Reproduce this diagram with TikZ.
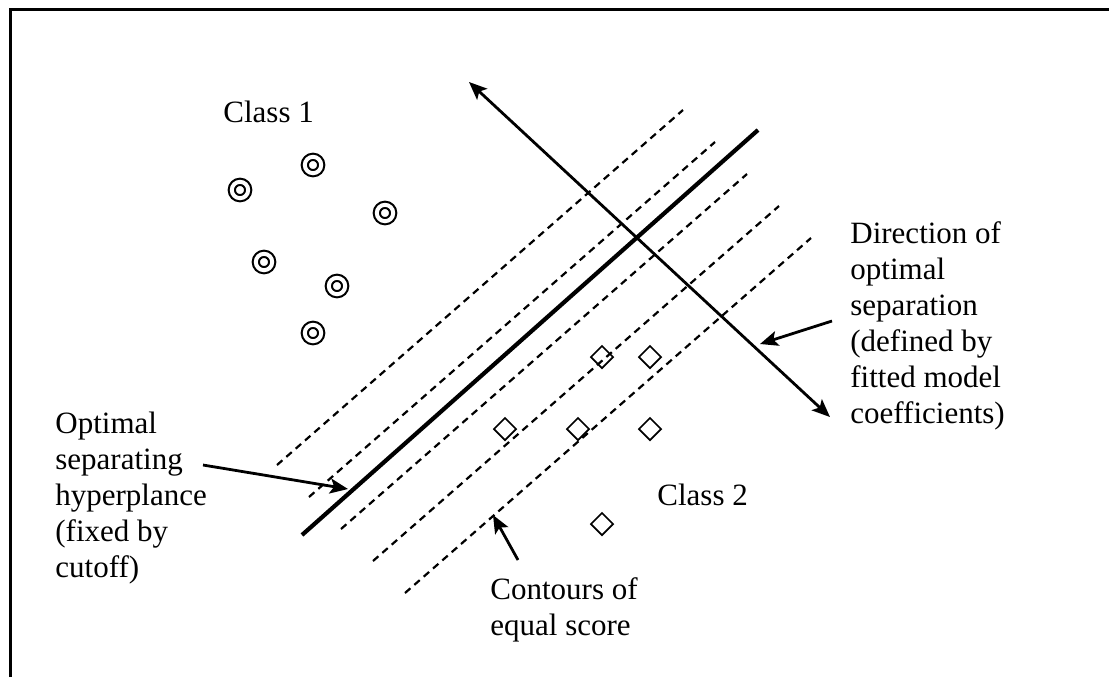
\documentclass[tikz,border=0pt]{standalone}
\usepackage{fontspec}
\setmainfont{Liberation Serif}
\usepackage{tikz}
\usetikzlibrary{arrows.meta,shapes.geometric}

\begin{document}
\begin{tikzpicture}[x=0.5pt, y=-0.5pt, >={Stealth[length=9pt,width=7.5pt,inset=2pt]},
  font=\fontsize{15.5}{18}\selectfont,
  ring/.style={circle, draw, double, line width=1.05pt, double distance=2pt,
    minimum size=8.2pt, inner sep=0pt},
  gem/.style={diamond, draw, line width=0.85pt, minimum size=11.4pt, inner sep=0pt},
  contour/.style={line width=1.1pt, dash pattern=on 3.6pt off 2.6pt},
  pointer/.style={->, line width=1.4pt},
  label/.style={align=left, inner sep=0pt, anchor=north west}]

  % ===== 枠 =====
  \useasboundingbox (0,0) rectangle (1109,677);
  \draw[line width=1.5pt] (10,677) -- (10,9) -- (1109,9);

  % ===== 等スコア線 =====
  \foreach \k in {0,...,4}
    \draw[contour] ({277+32*\k},{465+32*\k}) -- ({683+32*\k},{110+32*\k});

  % ---- 分離超平面 ----
  \draw[line width=2.1pt] (302,535) -- (758,130);

  % ---- 最適分離方向 ----
  \coordinate (dirA) at (469,82);
  \coordinate (dirB) at (830,417);
  \draw[<->, line width=1.4pt] (dirA) -- (dirB);

  % ===== クラス 1 =====
  \foreach \n/\px/\py in {1/240/190, 2/313/165, 3/385/213, 4/264/262, 5/337/286, 6/313/333}
    \node[ring] (c\n) at (\px,\py) {};

  % ===== クラス 2 =====
  \foreach \n/\px/\py in {1/602/357, 2/650/357, 3/505/429, 4/578/429, 5/650/429, 6/602/524}
    \node[gem] (d\n) at (\px,\py) {};

  % ===== ラベル =====
  \node[inner sep=0pt, anchor=base west] (class1) at (223,122) {Class 1};
  \node[inner sep=0pt, anchor=base west] (class2) at (657,505) {Class 2};

  \node[label] (dirlabel) at (850,221)
  {Direction of\\optimal\\separation\\(defined by\\fitted model\\coefficients)};

  \node[label] (hyplabel) at (55,412)
  {Optimal\\separating\\hyperplance\\(fixed by\\cutoff)};

  \node[label] (contlabel) at (490,577)
  {Contours of\\equal score};

  % ---- 指示矢印 ----
  \coordinate (hypTail) at (203,465);
  \coordinate (hypTip) at (348,489);
  \draw[pointer] (hypTail) -- (hypTip);

  \coordinate (dirTail) at (832,321);
  \coordinate (dirTip) at (760,344);
  \draw[pointer] (dirTail) -- (dirTip);

  \coordinate (contTail) at (518,560);
  \coordinate (contTip) at (493,515);
  \draw[pointer] (contTail) -- (contTip);

\end{tikzpicture}
\end{document}
